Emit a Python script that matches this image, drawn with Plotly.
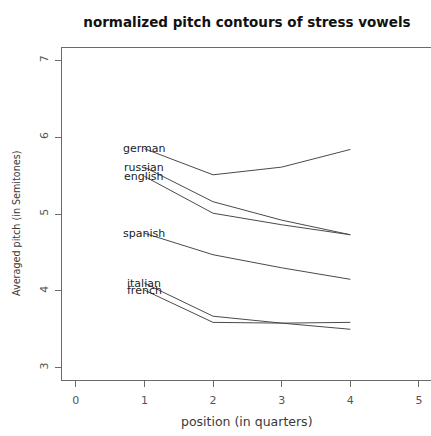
import plotly.graph_objects as go

# Averaged pitch per quarter position, one contour per language
positions = [1, 2, 3, 4]
languages = ["german", "russian", "english", "spanish", "italian", "french"]
german = [5.85, 5.51, 5.61, 5.84]
russian = [5.61, 5.16, 4.92, 4.73]
english = [5.49, 5.01, 4.86, 4.73]
spanish = [4.75, 4.47, 4.30, 4.15]
italian = [4.10, 3.67, 3.58, 3.50]
french = [4.01, 3.59, 3.58, 3.59]
series = [german, russian, english, spanish, italian, french]

x_ticks = [0, 1, 2, 3, 4, 5]
y_ticks = [3, 4, 5, 6, 7]

FONT = "DejaVu Sans"
INK = "#3a3a3a"
W, H = 431, 436
L, R, T, B = 62, 0, 48, 56
CENTER_X = (247 - L) / (W - L - R)   # horizontal centre of the plotting box

fig = go.Figure()
for name, vals in zip(languages, series):
    fig.add_trace(go.Scatter(
        x=positions, y=vals, mode="lines", name=name,
        line=dict(color="#4a4a4a", width=1),
        showlegend=False, hoverinfo="skip",
    ))
    # language label centred on the first point of its contour
    fig.add_annotation(
        x=positions[0], y=vals[0], text=name, showarrow=False,
        xanchor="center", yanchor="middle",
        font=dict(family=FONT, size=11, color="#222222"),
    )

fig.update_layout(
    width=W, height=H,
    margin=dict(l=L, r=R, t=T, b=B),
    paper_bgcolor="white", plot_bgcolor="white",
    font=dict(family=FONT, color=INK),
    title=dict(
        text="<b>normalized pitch contours of stress vowels</b>",
        x=CENTER_X, xanchor="center", xref="paper",
        y=1 - 22.5 / H, yanchor="middle", yref="container",
        font=dict(family=FONT, size=13.5, color="#111111"),
    ),
)

fig.update_xaxes(
    range=[-0.2, 5.175], tickvals=x_ticks, ticktext=[str(v) for v in x_ticks],
    showgrid=False, zeroline=False,
    showline=True, mirror=True, linecolor="#6a6a6a", linewidth=1,
    ticks="outside", ticklen=6, tickcolor="#6a6a6a",
    ticklabelstandoff=4,
    tickfont=dict(family=FONT, size=11, color="#555555"),
)
fig.update_yaxes(
    range=[2.84, 7.16], tickvals=y_ticks, ticktext=[str(v) for v in y_ticks],
    showgrid=False, zeroline=False,
    showline=True, linecolor="#6a6a6a", linewidth=1,
    ticks="outside", ticklen=6, tickcolor="#6a6a6a",
    tickangle=-90, ticklabelstandoff=3,
    tickfont=dict(family=FONT, size=11, color="#555555"),
)

# axis titles
fig.add_annotation(
    x=CENTER_X, y=0, xref="paper", yref="paper", yshift=-41,
    text="position (in quarters)", showarrow=False,
    xanchor="center", yanchor="middle",
    font=dict(family=FONT, size=12.5, color=INK),
)
fig.add_annotation(
    x=0, y=0.47, xref="paper", yref="paper", xshift=-45,
    text="Averaged pitch (in Semitones)", showarrow=False, textangle=-90,
    xanchor="center", yanchor="middle",
    font=dict(family=FONT, size=9.6, color=INK),
)

fig.write_html("out.html")
